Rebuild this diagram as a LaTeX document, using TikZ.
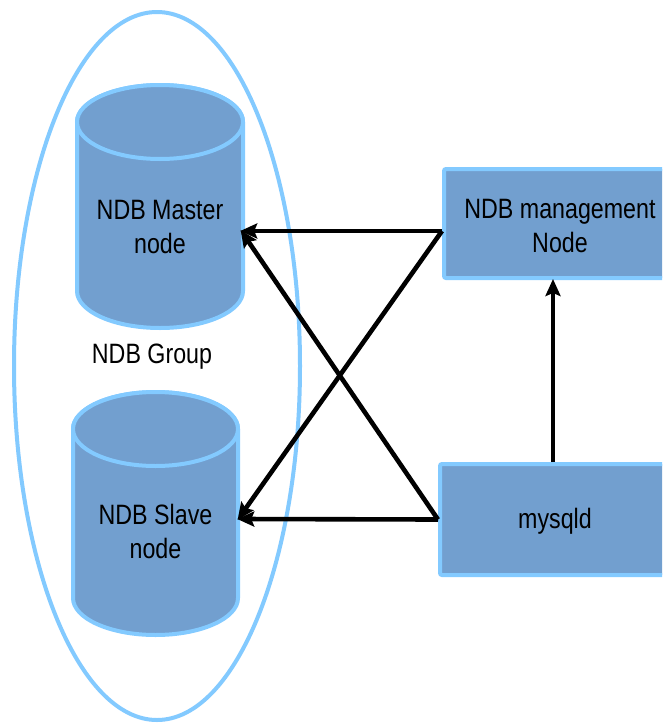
\documentclass[tikz,border=0pt]{standalone}
\usepackage{fontspec}
\setmainfont{Liberation Sans}[FakeStretch=0.83]
\usetikzlibrary{arrows.meta,calc}
\definecolor{boxfill}{HTML}{729FCF}
\definecolor{boxline}{HTML}{83CAFF}
\tikzset{
  cylbody/.style={fill=boxfill,draw=boxline,line width=4pt},
  boxnode/.style={rectangle,fill=boxfill,draw=boxline,line width=4pt,rounded corners=2pt,inner sep=0pt},
  txt/.style={font=\fontsize{28}{34}\selectfont,align=center,inner sep=0pt},
  conn/.style={line width=4.6pt,-{Stealth[length=17pt,width=15pt,inset=3pt]},shorten >=-1pt},
  group/.style={draw=boxline,line width=4pt}
}
\begin{document}
\begin{tikzpicture}[x=1pt,y=-1pt]
\clip (0,0) rectangle (662,723);
\fill[white] (0,0) rectangle (662,723);
% group ellipse
\draw[group] (157,366) ellipse [x radius=143, y radius=354];
% master cylinder
\path[cylbody] (77,122) -- (77,291) arc[start angle=180,end angle=0,x radius=83,y radius=37] -- (243,122) arc[start angle=0,end angle=-180,x radius=83,y radius=37] -- cycle;
\draw[cylbody] (160,122) ellipse [x radius=83, y radius=37];
\node[minimum width=166pt,minimum height=169pt,inner sep=0pt] (master) at (160,206.5) {};
\node[txt] (masterlabel) at (160,227) {NDB Master\\node};
% slave cylinder
\path[cylbody] (73,429) -- (73,598) arc[start angle=180,end angle=0,x radius=82.5,y radius=37] -- (238,429) arc[start angle=0,end angle=-180,x radius=82.5,y radius=37] -- cycle;
\draw[cylbody] (155.5,429) ellipse [x radius=82.5, y radius=37];
\node[minimum width=165pt,minimum height=169pt,inner sep=0pt] (slave) at (155.5,513.5) {};
\node[txt] (slavelabel) at (155.5,531) {NDB Slave\\node};
% group label
\node[txt] (grouplabel) at (152,357) {NDB Group};
% boxes
\node[boxnode,minimum width=236pt,minimum height=109pt] (mgmt) at (562,223.5) {};
\node[txt] (mgmtlabel) at (560,226) {NDB management\\Node};
\node[boxnode,minimum width=230pt,minimum height=111pt] (mysqld) at (555,519.5) {};
\node[txt] (mysqldlabel) at (555,521) {mysqld};
% connectors
\coordinate (mgmtout) at ([yshift=-7.5pt]mgmt.west);
\coordinate (masterin) at ([xshift=-2pt,yshift=-24.5pt]master.east);
\coordinate (slavein) at ([yshift=-5.5pt]slave.east);
\coordinate (mgmtbot) at (mgmt.south -| 553,0);
\coordinate (mysqldtop) at (mysqld.north -| 553,0);
\draw[conn] (mgmtout) -- (masterin);
\draw[conn] (mgmtout) -- (slavein);
\draw[conn] (mysqld.west) -- (slavein);
\draw[conn] (mysqld.west) -- (masterin);
\draw[conn] (mysqldtop) -- (mgmtbot);
\end{tikzpicture}
\end{document}
